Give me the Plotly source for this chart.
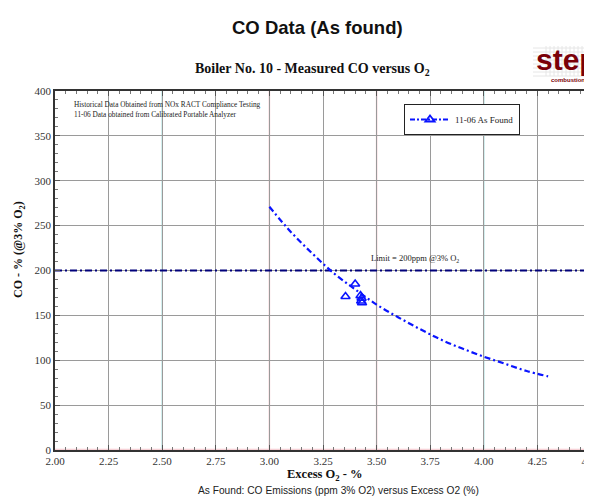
import plotly.graph_objects as go

# ---- data ----
fit_o2 = [3.0, 3.1, 3.2, 3.3, 3.4, 3.5, 3.6, 3.7, 3.8, 3.9, 4.0, 4.1, 4.2, 4.3]
fit_co = [271, 243, 219, 197, 179, 162, 148, 135, 123, 113, 104, 96, 88, 82]

meas_o2 = [3.40, 3.355, 3.425, 3.43, 3.428, 3.432]
meas_co = [185, 171, 172, 169, 166, 164]

limit_co = 200
x_ticks = [2.00, 2.25, 2.50, 2.75, 3.00, 3.25, 3.50, 3.75, 4.00, 4.25, 4.50]
x_tick_labels = ["2.00", "2.25", "2.50", "2.75", "3.00", "3.25", "3.50", "3.75", "4.00", "4.25", "4.50"]
y_ticks = [0, 50, 100, 150, 200, 250, 300, 350, 400]
pink_grid = [3.00, 3.50]
cyan_grid = [2.50, 4.00]

SERIF = "Liberation Serif, Times New Roman, serif"
SANS = "Liberation Sans, Arial, sans-serif"

fig = go.Figure()

# colored grid accents
for xv in pink_grid:
    fig.add_vline(x=xv, line=dict(color="#f4c4ca", width=1.5), layer="below")
for xv in cyan_grid:
    fig.add_vline(x=xv, line=dict(color="#b0e2e2", width=1.5), layer="below")
fig.add_hline(y=0.8, line=dict(color="#f4c4ca", width=1), layer="below")

# limit line
fig.add_trace(go.Scatter(
    x=[2.0, 4.5], y=[limit_co, limit_co], mode="lines",
    line=dict(color="#00007a", width=2, dash="7px,3px,2px,3px"),
    showlegend=False, hoverinfo="skip"))

# fitted curve
fig.add_trace(go.Scatter(
    x=fit_o2, y=fit_co, mode="lines",
    line=dict(color="#0a14ff", width=2.2, dash="6px,3px,2px,3px", shape="spline"),
    showlegend=False))

# measured points
fig.add_trace(go.Scatter(
    x=meas_o2, y=meas_co, mode="markers",
    marker=dict(symbol="triangle-up-open", size=8, color="#0a14ff",
                line=dict(width=1.6, color="#0a14ff")),
    showlegend=False))

# legend entry (line + marker)
fig.add_trace(go.Scatter(
    x=[None], y=[None], mode="lines+markers", name="11-06 As Found",
    line=dict(color="#0a14ff", width=2, dash="5px,2px,2px,2px"),
    marker=dict(symbol="triangle-up-open", size=8, color="#0a14ff",
                line=dict(width=1.8, color="#0a14ff"))))

# page offset of the figure (browser body margin)
OFF = 8
W, H = 584, 489
# desired plot area in page pixels: left 55, right 591, top 91, bottom 450
L, R, T, B = 55 - OFF, W - (591 - OFF), 91 - OFF, H - (450 - OFF)
pw, ph = W - L - R, H - T - B

def px(xp):
    return (xp - OFF - L) / pw

def py(yp):
    return (H - B - (yp - OFF)) / ph

annotations = [
    dict(text="<b>CO Data (As found)</b>", x=px(317), y=py(27),
         font=dict(family=SANS, size=18.5, color="#111")),
    dict(text="<b>Boiler No. 10 - Measured CO versus O<sub>2</sub></b>", x=px(312), y=py(69),
         font=dict(family=SERIF, size=14, color="#111")),
    dict(text="<b>Excess O<sub>2</sub> - %</b>", x=px(325), y=py(475),
         font=dict(family=SERIF, size=12.5, color="#111")),
    dict(text="As Found: CO Emissions (ppm 3% O2) versus Excess O2 (%)", x=px(338), y=py(490),
         font=dict(family=SANS, size=10.2, color="#222")),
    dict(text="<b>CO - % (@3% O<sub>2</sub>)</b>", x=px(19), y=py(250), textangle=-90,
         font=dict(family=SERIF, size=12, color="#111")),
    dict(text="Historical Data Obtained from NOx RACT Compliance Testing", x=px(72), y=py(104),
         xanchor="left", font=dict(family=SERIF, size=7.3, color="#222")),
    dict(text="11-06 Data obtained from Calibrated Portable Analyzer", x=px(72), y=py(114),
         xanchor="left", font=dict(family=SERIF, size=7.3, color="#222")),
    dict(text="<b>step</b>", x=px(534), y=py(60), xanchor="left",
         font=dict(family="Liberation Sans Narrow, Arial Narrow, Liberation Sans, sans-serif",
                   size=30, color="#7a0008")),
    dict(text="<b>combustion</b>", x=px(549), y=py(80), xanchor="left",
         font=dict(family=SANS, size=6, color="#7a0008")),
]
for a in annotations:
    a.setdefault("xref", "paper")
    a.setdefault("yref", "paper")
    a.setdefault("showarrow", False)
    a.setdefault("xanchor", "center")
    a.setdefault("yanchor", "middle")

annotations.append(dict(text="Limit = 200ppm @3% O<sub>2</sub>", x=3.68, y=limit_co, yshift=12,
                        xref="x", yref="y", showarrow=False, xanchor="center", yanchor="middle",
                        font=dict(family=SERIF, size=8.5, color="#222")))

shapes = [
    # outer frame
    dict(type="rect", xref="paper", yref="paper", x0=px(9), x1=px(610), y0=py(10), y1=py(510),
         line=dict(color="#d2d2d2", width=2), fillcolor="rgba(0,0,0,0)", layer="below"),
    # logo background
    dict(type="rect", xref="paper", yref="paper", x0=px(533), x1=px(595), y0=py(76), y1=py(46),
         line=dict(width=0), fillcolor="#c4c4c4", layer="below"),
]
for gx in range(534, 595, 4):
    shapes.append(dict(type="line", xref="paper", yref="paper", x0=px(gx), x1=px(gx),
                       y0=py(76), y1=py(46), line=dict(color="#e6e6e6", width=1), layer="below"))
for gy in range(48, 77, 4):
    shapes.append(dict(type="line", xref="paper", yref="paper", x0=px(533), x1=px(595),
                       y0=py(gy), y1=py(gy), line=dict(color="#e6e6e6", width=1), layer="below"))

fig.update_layout(
    width=W, height=H,
    margin=dict(l=L, r=R, t=T, b=B, autoexpand=False),
    paper_bgcolor="white", plot_bgcolor="white",
    annotations=annotations, shapes=shapes,
    legend=dict(x=px(404), y=py(104), xanchor="left", yanchor="top",
                bordercolor="#222", borderwidth=1, bgcolor="white",
                font=dict(family=SERIF, size=9, color="#222"),
                itemwidth=40),
    xaxis=dict(range=[2.0, 4.5], tickvals=x_ticks, ticktext=x_tick_labels,
               showgrid=True, gridcolor="#9a9a9a", gridwidth=1,
               showline=True, linecolor="#333", linewidth=1.5, mirror="ticks",
               ticks="inside", ticklen=5, tickcolor="#555", ticklabeloverflow="allow",
               minor=dict(dtick=0.05, ticks="inside", ticklen=3, tickcolor="#777", showgrid=False),
               tickfont=dict(family=SERIF, size=11, color="#333"), zeroline=False),
    yaxis=dict(range=[0, 400], tickvals=y_ticks,
               showgrid=True, gridcolor="#9a9a9a", gridwidth=1,
               showline=True, linecolor="#333", linewidth=1.5, mirror="ticks",
               ticks="inside", ticklen=5, tickcolor="#555",
               minor=dict(dtick=10, ticks="inside", ticklen=3, tickcolor="#777", showgrid=False),
               tickfont=dict(family=SERIF, size=11, color="#333"), zeroline=False),
)

fig.write_html("out.html")
